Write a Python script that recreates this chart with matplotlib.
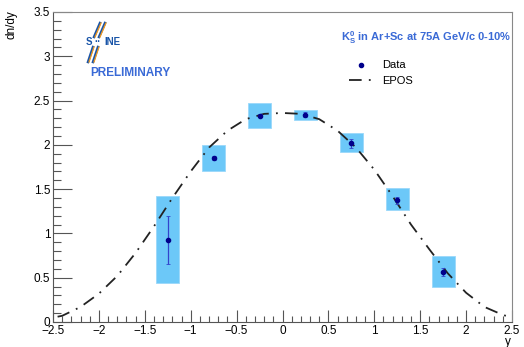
import numpy as np
import matplotlib.pyplot as plt
from matplotlib.patches import Rectangle
from matplotlib.lines import Line2D
from matplotlib.ticker import MultipleLocator

plt.rcParams['font.family'] = ['Liberation Sans', 'DejaVu Sans']

# data points (rapidity bins)
y_pts = [-1.25, -0.75, -0.25, 0.25, 0.75, 1.25, 1.75]
dndy = [0.925, 1.85, 2.33, 2.34, 2.02, 1.375, 0.565]
stat = [0.27, 0.02, 0.02, 0.03, 0.05, 0.04, 0.05]
sys_lo = [0.48, 0.14, 0.14, 0.06, 0.105, 0.115, 0.165]
sys_hi = [0.50, 0.15, 0.145, 0.05, 0.11, 0.135, 0.18]
bin_half = 0.125

# EPOS curve
epos_x = [-2.45, -2.4, -2.2, -2.0, -1.8, -1.6, -1.4, -1.2, -1.0, -0.8, -0.6, -0.4, -0.2,
          0.0, 0.2, 0.4, 0.6, 0.8, 1.0, 1.2, 1.4, 1.6, 1.8, 2.0, 2.2, 2.4, 2.45]
epos_y = [0.06, 0.07, 0.17, 0.32, 0.52, 0.78, 1.08, 1.40, 1.70, 1.97, 2.16, 2.29, 2.35,
          2.36, 2.35, 2.29, 2.16, 1.97, 1.72, 1.42, 1.10, 0.82, 0.55, 0.33, 0.17, 0.08, 0.065]

fig = plt.figure(figsize=(5.24, 3.47), dpi=100)
ax = fig.add_axes([53/524, 1 - 322/347, 459/524, 310/347])

for x, v, lo, hi in zip(y_pts, dndy, sys_lo, sys_hi):
    ax.add_patch(Rectangle((x - bin_half, v - lo), 2 * bin_half, lo + hi,
                           facecolor='#6cc8f8', edgecolor='#9ad8fa', lw=0.6, zorder=1))

ax.plot(epos_x, epos_y, color='#222222', lw=1.3, dashes=(7, 4, 1, 4), zorder=2)
ax.errorbar(y_pts, dndy, yerr=stat, fmt='o', color='#00008b', ms=3.0,
            ecolor='#3344cc', elinewidth=0.9, capsize=1.5, capthick=0.6, zorder=3)

ax.set_xlim(-2.5, 2.5)
ax.set_ylim(0, 3.5)
ax.xaxis.set_minor_locator(MultipleLocator(0.1))
ax.yaxis.set_minor_locator(MultipleLocator(0.1))
ax.set_xticks(np.arange(-2.5, 2.51, 0.5))
ax.set_xticklabels(['\u22122.5', '\u22122', '\u22121.5', '\u22121', '\u22120.5', '0',
                    '0.5', '1', '1.5', '2', '2.5'])
ax.set_yticks(np.arange(0, 3.51, 0.5))
ax.set_yticklabels(['0', '0.5', '1', '1.5', '2', '2.5', '3', '3.5'])
ax.tick_params(which='major', direction='in', length=9, width=0.8, labelsize=8.5,
               color='#555555', pad=2)
ax.tick_params(which='minor', direction='in', length=4.5, width=0.8, color='#555555')
ax.tick_params(axis='y', which='major', length=14)
ax.tick_params(axis='y', which='minor', length=6)
for s in ['top', 'right']:
    ax.spines[s].set_color('#888888')
for s in ['left', 'bottom']:
    ax.spines[s].set_color('#555555')

fig.text(12/524, 1 - 10/347, 'dn/dy', rotation=90, ha='center', va='top', fontsize=8.5)
fig.text(508/524, 1 - 342/347, 'y', ha='center', va='center', fontsize=8.5)

blue = '#3a6ad6'
fig.text(426/524, 1 - 38/347, r'K$_\mathregular{S}^\mathregular{0}$ in Ar+Sc at 75A GeV/c 0-10%',
         ha='center', va='center', fontsize=8.0, color=blue, fontweight='bold')
fig.text(90/524, 1 - 73/347, 'PRELIMINARY', ha='left', va='center', fontsize=8.5,
         color=blue, fontweight='bold')

# logo
logo_blue = '#1a55a8'
fig.text(86/524, 1 - 42/347, 'S', ha='left', va='center', fontsize=7,
         color=logo_blue, fontweight='bold')
fig.text(94/524, 1 - 42/347, '\u00b7\u00b7', ha='left', va='center', fontsize=7,
         color=logo_blue, fontweight='bold')
fig.text(104/524, 1 - 42/347, 'INE', ha='left', va='center', fontsize=7,
         color=logo_blue, fontweight='bold')
for dx in (0, 5):
    fig.add_artist(Line2D([(100 + dx) / 524, (94 + dx) / 524], [1 - 23/347, 1 - 37/347],
                          color=logo_blue, lw=1.8))
    fig.add_artist(Line2D([(101 + dx) / 524, (95 + dx) / 524], [1 - 23/347, 1 - 37/347],
                          color='#f39a1e', lw=0.9))
    fig.add_artist(Line2D([(93 + dx) / 524, (88 + dx) / 524], [1 - 47/347, 1 - 62/347],
                          color=logo_blue, lw=1.8))
    fig.add_artist(Line2D([(94 + dx) / 524, (89 + dx) / 524], [1 - 47/347, 1 - 62/347],
                          color='#f39a1e', lw=0.9))

# legend
leg_handles = [
    Line2D([], [], marker='o', color='#00008b', ms=3.0, ls='none'),
    Line2D([], [], color='#222222', lw=1.3, dashes=(7, 4, 1, 4)),
]
ax.legend(leg_handles, ['Data', 'EPOS'], loc='center left',
          bbox_to_anchor=(343/524, 1 - 73/347), bbox_transform=fig.transFigure,
          frameon=False, fontsize=8, handlelength=2.2, borderpad=0, labelspacing=0.45)

fig.savefig('out.png', dpi=100)
